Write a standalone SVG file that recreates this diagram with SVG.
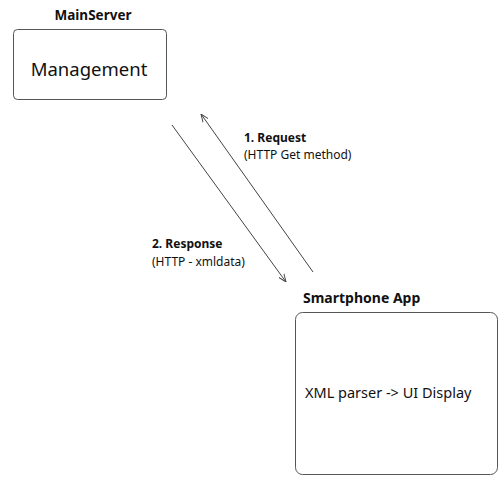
<svg xmlns="http://www.w3.org/2000/svg" width="499" height="477" viewBox="0 0 499 477">
<defs>
<style>
.box{fill:#fff;stroke:#555;stroke-width:1}
.t{font-family:"Noto Sans","Open Sans",sans-serif;fill:#111}
.b{font-weight:bold}
.conn{stroke:#444;stroke-width:1;fill:none}
</style>
<marker id="ah" viewBox="0 0 10 10" refX="10" refY="5" markerWidth="8" markerHeight="8" orient="auto" markerUnits="userSpaceOnUse">
<path d="M0,1 L10,5 L0,9" fill="none" stroke="#444" stroke-width="1.2"/>
</marker>
</defs>
<rect width="499" height="477" fill="#fff"/>
<g id="mainserver">
<text class="t b" x="93" y="20" font-size="13.5" text-anchor="middle">MainServer</text>
<rect class="box" x="13.5" y="29.5" width="153" height="70" rx="4"/>
<text class="t" x="89" y="76" font-size="18.5" text-anchor="middle">Management</text>
</g>
<g id="smartphone">
<text class="t b" x="303" y="303" font-size="14">Smartphone App</text>
<rect class="box" x="295.5" y="312.5" width="202" height="162" rx="7"/>
<text class="t" x="305" y="398" font-size="14.5">XML parser -&gt; UI Display</text>
</g>
<g id="connectors">
<line class="conn" x1="172" y1="125" x2="286" y2="282" marker-end="url(#ah)"/>
<line class="conn" x1="313" y1="272" x2="201" y2="114" marker-end="url(#ah)"/>
<text class="t b" x="244" y="142" font-size="12">1. Request</text>
<text class="t" x="244" y="159" font-size="12">(HTTP Get method)</text>
<text class="t b" x="152" y="248" font-size="12">2. Response</text>
<text class="t" x="152" y="266" font-size="12">(HTTP - xmldata)</text>
</g>
</svg>
